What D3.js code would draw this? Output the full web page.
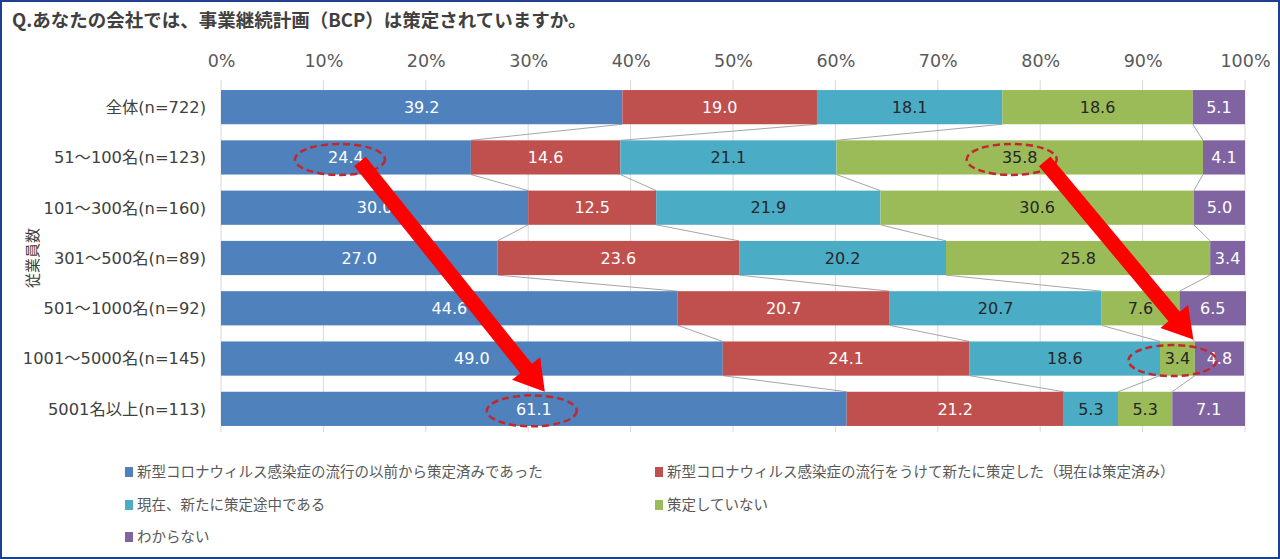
<!DOCTYPE html>
<html>
  <head>
    <meta charset="utf-8">
    <script src="https://d3js.org/d3.v7.min.js"></script>
    <style>
      body { margin: 0; background: #fff; }
      text { font-family: "Noto Sans CJK JP", "Noto Sans", sans-serif; }
      .lat { font-family: "DejaVu Sans", "Noto Sans CJK JP", sans-serif; }
    </style>
  </head>
  <body>
<script type="text/javascript">
var categories = ['全体(n=722)', '51～100名(n=123)', '101～300名(n=160)', '301～500名(n=89)',
                  '501～1000名(n=92)', '1001～5000名(n=145)', '5001名以上(n=113)'];
var seriesNames = ['新型コロナウィルス感染症の流行の以前から策定済みであった',
                   '新型コロナウィルス感染症の流行をうけて新たに策定した（現在は策定済み）',
                   '現在、新たに策定途中である',
                   '策定していない',
                   'わからない'];
var before   = [39.2, 24.4, 30.0, 27.0, 44.6, 49.0, 61.1];
var newly    = [19.0, 14.6, 12.5, 23.6, 20.7, 24.1, 21.2];
var ongoing  = [18.1, 21.1, 21.9, 20.2, 20.7, 18.6, 5.3];
var none     = [18.6, 35.8, 30.6, 25.8, 7.6, 3.4, 5.3];
var unknown  = [5.1, 4.1, 5.0, 3.4, 6.5, 4.8, 7.1];
var ticks = [0, 10, 20, 30, 40, 50, 60, 70, 80, 90, 100];
var title = 'Q.あなたの会社では、事業継続計画（BCP）は策定されていますか。';
var axisTitle = '従業員数';

var colors = ['#4F81BD', '#C0504D', '#4BACC6', '#9BBB59', '#8064A2'];
var labelColors = ['#fff', '#fff', '#262626', '#262626', '#fff'];

var W = 1280, H = 559;
var svg = d3.select('body').append('svg')
      .attr('width', W)
      .attr('height', H);

svg.append('rect')
    .attr('x', 1).attr('y', 1)
    .attr('width', W - 2).attr('height', H - 2)
    .attr('fill', '#fff')
    .attr('stroke', '#1F3F8F')
    .attr('stroke-width', 2);

var x = d3.scaleLinear().domain([0, 100]).range([221, 1245]);
var y = d3.scaleBand().domain(categories).range([82, 434])
      .paddingInner(0.32).paddingOuter(0.16);

// build rows for the stack
var rows = categories.map(function(c, i) {
  return {cat: c, s0: before[i], s1: newly[i], s2: ongoing[i], s3: none[i], s4: unknown[i]};
});
var stack = d3.stack().keys(['s0', 's1', 's2', 's3', 's4'])(rows);

svg.append('text')
    .attr('x', 12).attr('y', 27)
    .attr('font-size', 18.5).attr('font-weight', 'bold')
    .attr('fill', '#404040')
    .text(title);

// grid
svg.append('g')
    .selectAll('line')
    .data(ticks)
    .enter()
    .append('line')
    .attr('x1', function(d) { return x(d); })
    .attr('x2', function(d) { return x(d); })
    .attr('y1', 80).attr('y2', 432)
    .attr('stroke', '#D9D9D9')
    .attr('stroke-width', 1);

// top axis labels
var axis = svg.append('g')
    .attr('transform', 'translate(0,67)')
    .call(d3.axisTop(x).tickValues(ticks).tickSize(0).tickPadding(0)
          .tickFormat(function(d) { return d + '%'; }));
axis.select('.domain').remove();
axis.selectAll('text')
    .attr('class', 'lat')
    .attr('font-size', 17.5)
    .attr('font-family', null)
    .attr('fill', '#595959');

// series lines between bars
var lineG = svg.append('g');
stack.forEach(function(layer) {
  if (layer.key === 's4') return;
  for (var i = 0; i < layer.length - 1; i++) {
    lineG.append('line')
        .attr('x1', x(layer[i][1]))
        .attr('y1', y(categories[i]) + y.bandwidth())
        .attr('x2', x(layer[i + 1][1]))
        .attr('y2', y(categories[i + 1]))
        .attr('stroke', '#A6A6A6')
        .attr('stroke-width', 1);
  }
});

// bars
var layers = svg.append('g')
    .selectAll('g')
    .data(stack)
    .enter()
    .append('g')
    .attr('fill', function(d, i) { return colors[i]; });

layers.selectAll('rect')
    .data(function(d) { return d; })
    .enter()
    .append('rect')
    .attr('x', function(d) { return x(d[0]); })
    .attr('y', function(d) { return y(d.data.cat); })
    .attr('width', function(d) { return x(d[1]) - x(d[0]); })
    .attr('height', y.bandwidth());

layers.selectAll('text')
    .data(function(d, i) { return d.map(function(p) { return {p: p, k: i}; }); })
    .enter()
    .append('text')
    .attr('class', 'lat')
    .attr('x', function(d) { return (x(d.p[0]) + x(d.p[1])) / 2; })
    .attr('y', function(d) { return y(d.p.data.cat) + y.bandwidth() / 2; })
    .attr('dy', '0.36em')
    .attr('text-anchor', 'middle')
    .attr('font-size', 16)
    .attr('fill', function(d) { return labelColors[d.k]; })
    .text(function(d) { return (d.p[1] - d.p[0]).toFixed(1); });

// category labels
svg.append('g')
    .selectAll('text')
    .data(categories)
    .enter()
    .append('text')
    .attr('class', 'lat')
    .attr('x', 206)
    .attr('y', function(d) { return y(d) + y.bandwidth() / 2; })
    .attr('dy', '0.36em')
    .attr('text-anchor', 'end')
    .attr('font-size', 16.3)
    .attr('fill', '#404040')
    .text(function(d) { return d; });

svg.append('text')
    .attr('transform', 'translate(38,258) rotate(-90)')
    .attr('text-anchor', 'middle')
    .attr('font-size', 15)
    .attr('fill', '#404040')
    .text(axisTitle);

// annotations: dashed ellipses on segments + red arrows
function segCenter(layerIdx, row) {
  var p = stack[layerIdx][row];
  return [(x(p[0]) + x(p[1])) / 2, y(categories[row]) + y.bandwidth() / 2];
}
var marks = [
  {c: segCenter(0, 1), dx: -6, rx: 45},
  {c: segCenter(3, 1), dx: -8, rx: 45},
  {c: segCenter(0, 6), dx: -2, rx: 45},
  {c: segCenter(3, 5), dx: -5, rx: 44}
];
var ann = svg.append('g');
marks.forEach(function(m) {
  ann.append('ellipse')
      .attr('cx', m.c[0] + m.dx)
      .attr('cy', m.c[1] + 2)
      .attr('rx', m.rx).attr('ry', 15.5)
      .attr('fill', 'none')
      .attr('stroke', '#C0282D')
      .attr('stroke-width', 2.5)
      .attr('stroke-dasharray', '7,4');
});

function arrow(from, to) {
  var dx = to[0] - from[0], dy = to[1] - from[1];
  var len = Math.sqrt(dx * dx + dy * dy);
  var ux = dx / len, uy = dy / len, nx = -uy, ny = ux;
  var sw = 7.5, hw = 18, hl = 30;
  var bx = to[0] - ux * hl, by = to[1] - uy * hl;
  var pts = [
    [from[0] + nx * sw, from[1] + ny * sw],
    [bx + nx * sw, by + ny * sw],
    [bx + nx * hw, by + ny * hw],
    to,
    [bx - nx * hw, by - ny * hw],
    [bx - nx * sw, by - ny * sw],
    [from[0] - nx * sw, from[1] - ny * sw]
  ];
  ann.append('polygon')
      .attr('points', pts.map(function(p) { return p.join(','); }).join(' '))
      .attr('fill', '#FF0000');
}
arrow([marks[0].c[0] + 14, marks[0].c[1] + 4], [marks[2].c[0] + 11, marks[2].c[1] - 17]);
arrow([marks[1].c[0] + 25, marks[1].c[1] + 4], [marks[3].c[0] + 16, marks[3].c[1] - 19]);

// legend
var legendPos = [[125, 472], [655, 472], [125, 505], [655, 505], [125, 537]];
var leg = svg.append('g')
    .selectAll('g')
    .data(seriesNames)
    .enter()
    .append('g')
    .attr('transform', function(d, i) { return 'translate(' + legendPos[i][0] + ',' + legendPos[i][1] + ')'; });
leg.append('rect')
    .attr('x', 0).attr('y', -5)
    .attr('width', 8).attr('height', 10)
    .attr('fill', function(d, i) { return colors[i]; });
leg.append('text')
    .attr('x', 12)
    .attr('dy', '0.36em')
    .attr('font-size', 14.5)
    .attr('fill', '#595959')
    .text(function(d) { return d; });
</script>
  </body>
</html>
